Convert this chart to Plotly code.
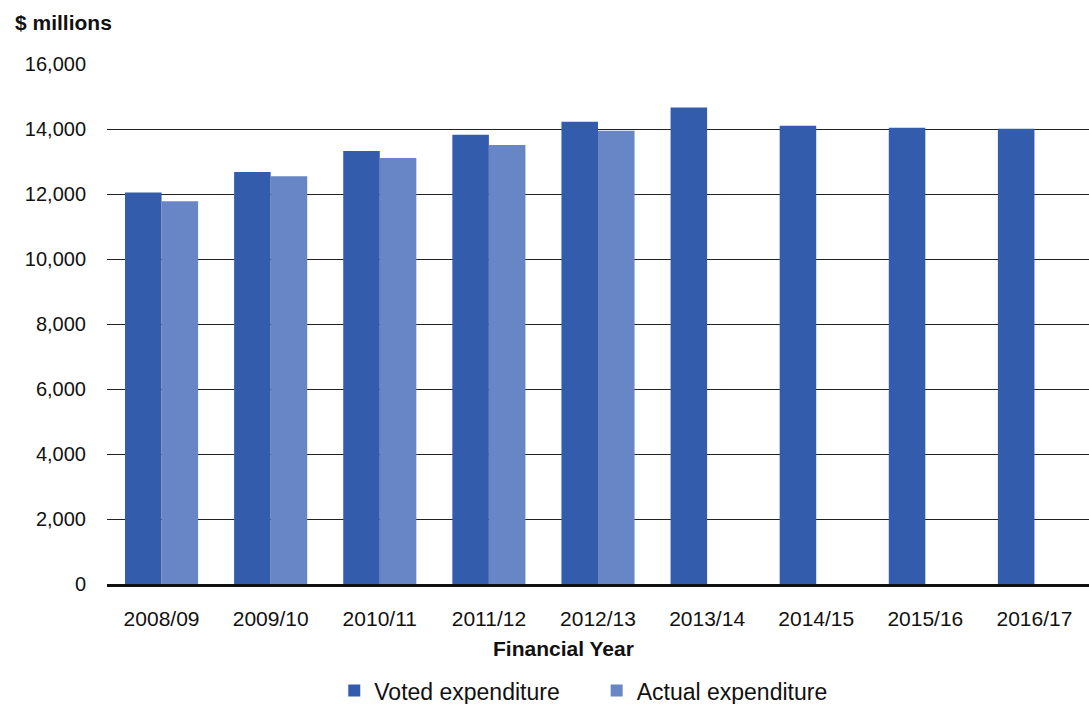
import plotly.graph_objects as go

years = ["2008/09", "2009/10", "2010/11", "2011/12", "2012/13",
         "2013/14", "2014/15", "2015/16", "2016/17"]
voted = [12050, 12675, 13325, 13820, 14225, 14660, 14100, 14040, 14005]
actual = [11775, 12550, 13110, 13510, 13945, None, None, None, None]
y_ticks = [0, 2000, 4000, 6000, 8000, 10000, 12000, 14000, 16000]

FONT = "Liberation Sans, Arial, sans-serif"

fig = go.Figure()
fig.add_trace(go.Bar(x=years, y=voted, name="Voted expenditure     ",
                     marker=dict(color="#335CAD", line=dict(width=0))))
fig.add_trace(go.Bar(x=years, y=actual, name="Actual expenditure",
                     marker=dict(color="#6886C5", line=dict(width=0))))

fig.update_layout(
    width=1089, height=704,
    margin=dict(l=107, r=0, t=64, b=120, autoexpand=False),
    paper_bgcolor="white", plot_bgcolor="white",
    font=dict(family=FONT, size=20, color="#111"),
    barmode="group", bargap=0.33, bargroupgap=0,
    showlegend=True,
    legend=dict(orientation="h", x=0.485, xanchor="center", y=-0.205, yanchor="middle",
                font=dict(size=23, family=FONT), traceorder="normal",
                itemwidth=30),
)
fig.add_annotation(text="<b>$ millions</b>", xref="paper", yref="paper",
                   x=(13 - 107) / 982, xanchor="left",
                   y=1 + (64 - 22) / 520, yanchor="middle",
                   showarrow=False, font=dict(size=21, family=FONT, color="#111"))
fig.add_annotation(text="<b>Financial Year</b>", xref="paper", yref="paper",
                   x=(563 - 107) / 982, xanchor="center",
                   y=-(648 - 584) / 520, yanchor="middle",
                   showarrow=False, font=dict(size=21, family=FONT, color="#111"))

fig.update_xaxes(
    type="category", showgrid=False, showline=True, linecolor="#111", linewidth=3,
    ticks="", ticklabelstandoff=14, tickfont=dict(size=21), automargin=False,
)
fig.update_yaxes(
    range=[0, 16000], tickvals=y_ticks, tickformat=",d", automargin=False,
    showgrid=True, gridcolor="#222", gridwidth=1, zeroline=False,
    showline=False, ticks="", ticklabelstandoff=20, tickfont=dict(size=20),
)

fig.write_html("out.html")
